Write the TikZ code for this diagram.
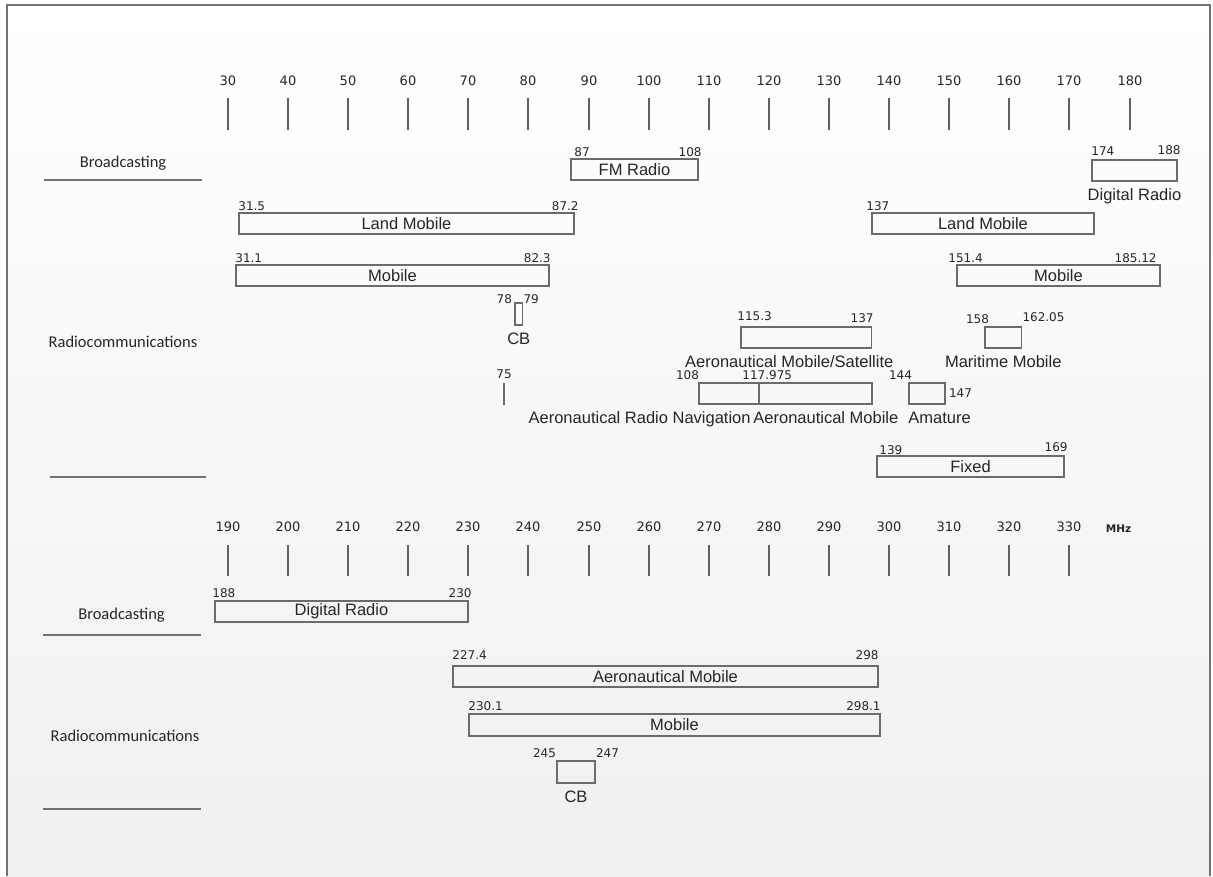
\documentclass[tikz,border=0pt]{standalone}
\usepackage{fontspec}
\setmainfont{Liberation Sans}
\newfontfamily\numfont{DejaVu Sans}
\newfontfamily\catfont{Carlito}
\usepackage{tikz}
\usetikzlibrary{positioning}
\tikzset{
	bandstyle/.style={rectangle,draw=black!58,line width=1.6pt,inner sep=0pt,minimum height=21pt,font=\fontsize{16.5}{18}\selectfont,text=black!85},
	namestyle/.style={inner sep=0pt,font=\fontsize{16.5}{18}\selectfont,text=black!85},
	freqstyle/.style={inner sep=0pt,font=\numfont\fontsize{12}{14}\selectfont,text=black!85},
	scalestyle/.style={inner sep=0pt,font=\numfont\fontsize{13}{15}\selectfont,text=black!85},
	tickstyle/.style={draw=black!62,line width=2pt},
	groupstyle/.style={inner sep=0pt,font=\catfont\fontsize{16.5}{18}\selectfont,text=black!85,anchor=base},
	rulestyle/.style={draw=black!55,line width=1.8pt}
}

\begin{document}
\begin{tikzpicture}[x=1pt,y=-1pt]
		\useasboundingbox (0,0) rectangle (1213,876);
		\fill[white] (0,0) rectangle (1213,876);
		\shade[top color=white,middle color=black!1,bottom color=black!6] (7,5) rectangle (1210,876);
		\draw[draw=black!55,line width=2pt] (7,876)--(7,5)--(1210,5)--(1210,876);
		% upper scale
		\node[scalestyle] (t30) at (228,81) {30};
		\node[scalestyle] (t40) at (288,81) {40};
		\node[scalestyle] (t50) at (348,81) {50};
		\node[scalestyle] (t60) at (408,81) {60};
		\node[scalestyle] (t70) at (468,81) {70};
		\node[scalestyle] (t80) at (528,81) {80};
		\node[scalestyle] (t90) at (589,81) {90};
		\node[scalestyle] (t100) at (649,81) {100};
		\node[scalestyle] (t110) at (709,81) {110};
		\node[scalestyle] (t120) at (769,81) {120};
		\node[scalestyle] (t130) at (829,81) {130};
		\node[scalestyle] (t140) at (889,81) {140};
		\node[scalestyle] (t150) at (949,81) {150};
		\node[scalestyle] (t160) at (1009,81) {160};
		\node[scalestyle] (t170) at (1069,81) {170};
		\node[scalestyle] (t180) at (1130,81) {180};
		\draw[tickstyle] (228,98)--(228,130);
		\draw[tickstyle] (288,98)--(288,130);
		\draw[tickstyle] (348,98)--(348,130);
		\draw[tickstyle] (408,98)--(408,130);
		\draw[tickstyle] (468,98)--(468,130);
		\draw[tickstyle] (528,98)--(528,130);
		\draw[tickstyle] (589,98)--(589,130);
		\draw[tickstyle] (649,98)--(649,130);
		\draw[tickstyle] (709,98)--(709,130);
		\draw[tickstyle] (769,98)--(769,130);
		\draw[tickstyle] (829,98)--(829,130);
		\draw[tickstyle] (889,98)--(889,130);
		\draw[tickstyle] (949,98)--(949,130);
		\draw[tickstyle] (1009,98)--(1009,130);
		\draw[tickstyle] (1069,98)--(1069,130);
		\draw[tickstyle] (1130,98)--(1130,130);
		% upper groups
		\node[groupstyle] (bc1) at (123,167) {Broadcasting};
		\node[groupstyle] (rc1) at (123,347) {Radiocommunications};
		\draw[rulestyle] (44,180)--(202,180);
		\draw[rulestyle] (50,477)--(206,477);
		% upper bands
		\node[bandstyle,minimum width=127pt] (fm) at (634.5,169.5) {FM Radio};
		\node[bandstyle,minimum width=85pt] (dab1) at (1134.5,170.5) {};
		\node[bandstyle,minimum width=335pt] (lm1) at (406.5,223.5) {Land Mobile};
		\node[bandstyle,minimum width=222pt] (lm2) at (983,223.5) {Land Mobile};
		\node[bandstyle,minimum width=313pt] (mob1) at (392.5,275.5) {Mobile};
		\node[bandstyle,minimum width=203pt] (mob2) at (1058.5,275.5) {Mobile};
		\node[bandstyle,minimum width=7.5pt,minimum height=22pt] (cb1) at (518.75,314) {};
		\node[bandstyle,minimum width=130.5pt] (ams) at (806.25,337.5) {};
		\node[bandstyle,minimum width=36.5pt] (mar) at (1003.25,337.5) {};
		\node[bandstyle,minimum width=0pt,minimum height=22pt] (n75) at (504,394) {};
		\node[bandstyle,minimum width=60pt] (arn) at (729,393.5) {};
		\node[bandstyle,minimum width=113pt] (aer) at (815.5,393.5) {};
		\node[bandstyle,minimum width=36pt] (am) at (927,393.5) {};
		\node[bandstyle,minimum width=187pt] (fix) at (970.5,466.5) {Fixed};
		% upper band names
		\node[namestyle,below=7pt of dab1] (dab1n) {Digital Radio};
		\node[namestyle,below=7pt of cb1] (cb1n) {CB};
		\node[namestyle,below=7pt of ams.south,xshift=-17pt] (amsn) {Aeronautical Mobile/Satellite};
		\node[namestyle,below=7pt of mar] (marn) {Maritime Mobile};
		\node[namestyle,below left=7pt and 9pt of arn.south east] (arnn) {Aeronautical Radio Navigation};
		\node[namestyle,below right=7pt and -5pt of aer.south west] (aern) {Aeronautical Mobile};
		\node[namestyle,below right=7pt and 0pt of am.south west] (amn) {Amature};
		% upper band limits
		\node[freqstyle,above right=1pt and 4pt of fm.north west] (f87) {87};
		\node[freqstyle,above left=1.5pt and -3pt of fm.north east] (f108) {108};
		\node[freqstyle,above right=4pt and 0pt of dab1.north west] (f174) {174};
		\node[freqstyle,above left=4pt and -3pt of dab1.north east] (f188) {188};
		\node[freqstyle,above right=1pt and 0pt of lm1.north west] (f315) {31.5};
		\node[freqstyle,above left=1pt and -4pt of lm1.north east] (f872) {87.2};
		\node[freqstyle,above right=1.5pt and -5pt of lm2.north west] (f137) {137};
		\node[freqstyle,above right=1.5pt and 0pt of mob1.north west] (f311) {31.1};
		\node[freqstyle,above left=1.5pt and -1pt of mob1.north east] (f823) {82.3};
		\node[freqstyle,above right=1.5pt and -8pt of mob2.north west] (f1514) {151.4};
		\node[freqstyle,above left=1.5pt and 4pt of mob2.north east] (f18512) {185.12};
		\node[freqstyle,above left=-1.5pt and 2pt of cb1.north west] (f78) {78};
		\node[freqstyle,above right=-1.5pt and 0pt of cb1.north east] (f79) {79};
		\node[freqstyle,above right=5.5pt and -3pt of ams.north west] (f1153) {115.3};
		\node[freqstyle,above left=3.5pt and -1.5pt of ams.north east] (f137b) {137};
		\node[freqstyle,above left=2.5pt and -5pt of mar.north west] (f158) {158};
		\node[freqstyle,above right=4.5pt and 0pt of mar.north east] (f16205) {162.05};
		\node[freqstyle,above=3.5pt of n75] (f75) {75};
		\node[freqstyle,above left=2.5pt and -1pt of arn.north west] (f108b) {108};
		\node[freqstyle,above right=2.5pt and -16pt of aer.north west] (f117975) {117.975};
		\node[freqstyle,above left=2.5pt and -4pt of am.north west] (f144) {144};
		\node[freqstyle,right=3pt of am] (f147) {147};
		\node[freqstyle,above right=0.5pt and 3pt of fix.north west] (f139) {139};
		\node[freqstyle,above left=3.5pt and -3pt of fix.north east] (f169) {169};
		% lower scale
		\node[scalestyle] (u190) at (228,527) {190};
		\node[scalestyle] (u200) at (288,527) {200};
		\node[scalestyle] (u210) at (348,527) {210};
		\node[scalestyle] (u220) at (408,527) {220};
		\node[scalestyle] (u230) at (468,527) {230};
		\node[scalestyle] (u240) at (528,527) {240};
		\node[scalestyle] (u250) at (589,527) {250};
		\node[scalestyle] (u260) at (649,527) {260};
		\node[scalestyle] (u270) at (709,527) {270};
		\node[scalestyle] (u280) at (769,527) {280};
		\node[scalestyle] (u290) at (829,527) {290};
		\node[scalestyle] (u300) at (889,527) {300};
		\node[scalestyle] (u310) at (949,527) {310};
		\node[scalestyle] (u320) at (1009,527) {320};
		\node[scalestyle] (u330) at (1069,527) {330};
		\node[scalestyle,font=\numfont\bfseries\fontsize{10.5}{12}\selectfont] (mhz) at (1118.5,529) {MHz};
		\draw[tickstyle] (228,545)--(228,576);
		\draw[tickstyle] (288,545)--(288,576);
		\draw[tickstyle] (348,545)--(348,576);
		\draw[tickstyle] (408,545)--(408,576);
		\draw[tickstyle] (468,545)--(468,576);
		\draw[tickstyle] (528,545)--(528,576);
		\draw[tickstyle] (589,545)--(589,576);
		\draw[tickstyle] (649,545)--(649,576);
		\draw[tickstyle] (709,545)--(709,576);
		\draw[tickstyle] (769,545)--(769,576);
		\draw[tickstyle] (829,545)--(829,576);
		\draw[tickstyle] (889,545)--(889,576);
		\draw[tickstyle] (949,545)--(949,576);
		\draw[tickstyle] (1009,545)--(1009,576);
		\draw[tickstyle] (1069,545)--(1069,576);
		% lower groups
		\node[groupstyle] (bc2) at (121.5,619) {Broadcasting};
		\node[groupstyle] (rc2) at (125,741) {Radiocommunications};
		\draw[rulestyle] (43,635)--(201,635);
		\draw[rulestyle] (43,809)--(201,809);
		% lower bands
		\node[bandstyle,minimum width=253pt] (dab2) at (341.5,611.5) {Digital Radio};
		\node[bandstyle,minimum width=425pt] (aer2) at (665.5,676.5) {Aeronautical Mobile};
		\node[bandstyle,minimum width=411pt,minimum height=22pt] (mob3) at (674.5,725) {Mobile};
		\node[bandstyle,minimum width=38pt,minimum height=22pt] (cb2) at (576,772) {};
		\node[namestyle,below=7pt of cb2] (cb2n) {CB};
		% lower band limits
		\node[freqstyle,above right=2.5pt and -2pt of dab2.north west] (g188) {188};
		\node[freqstyle,above left=2.5pt and -3pt of dab2.north east] (g230) {230};
		\node[freqstyle,above right=5.5pt and 0pt of aer2.north west] (g2274) {227.4};
		\node[freqstyle,above left=5.5pt and 0pt of aer2.north east] (g298) {298};
		\node[freqstyle,above right=2.5pt and 0pt of mob3.north west] (g2301) {230.1};
		\node[freqstyle,above left=2.5pt and 0pt of mob3.north east] (g2981) {298.1};
		\node[freqstyle,above left=2.5pt and 0pt of cb2.north west] (g245) {245};
		\node[freqstyle,above right=2.5pt and 0pt of cb2.north east] (g247) {247};
\end{tikzpicture}
\end{document}
